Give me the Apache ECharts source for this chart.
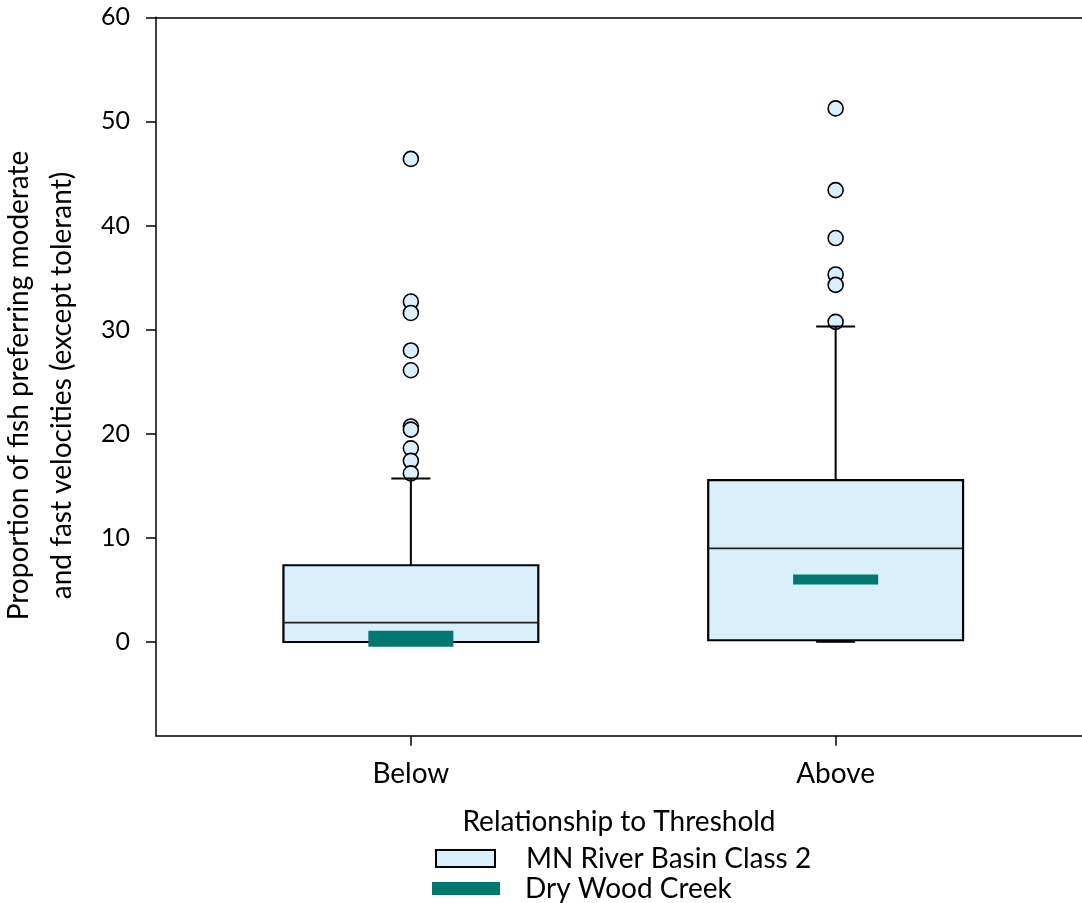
<!DOCTYPE html>
<html>
<head>
<meta charset="utf-8">
<script src="https://cdn.jsdelivr.net/npm/echarts@6/dist/echarts.min.js"></script>
<style>
html,body{margin:0;padding:0;background:#fff;}
#chart{width:1082px;height:903px;}
</style>
</head>
<body>
<div id="chart"></div>
<script>
// ---- data ----
const categories = ['Below', 'Above'];
const categoryPositions = [1, 2];
const whiskerLow = [0, 0.05];
const quartile1 = [0, 0.17];
const medians = [1.87, 9.0];
const quartile3 = [7.37, 15.55];
const whiskerHigh = [15.7, 30.3];
const outliersBelow = [46.4, 32.7, 31.6, 28.0, 26.1, 20.7, 20.4, 18.6, 17.4, 16.2];
const outliersAbove = [51.25, 43.4, 38.8, 35.3, 34.3, 30.75];
const creekValues = [0.3, 6.0];
const yTickValues = [0, 10, 20, 30, 40, 50, 60];
const seriesNames = ['MN River Basin Class 2', 'Dry Wood Creek'];

// ---- build ----
const FONT = 'Lato';
const boxFill = '#d9f0fc';
const teal = '#00786f';

const boxData = categoryPositions.map((x, i) => [x, whiskerLow[i], quartile1[i], medians[i], quartile3[i], whiskerHigh[i]]);
const outlierData = [];
outliersBelow.forEach(v => outlierData.push([categoryPositions[0], v]));
outliersAbove.forEach(v => outlierData.push([categoryPositions[1], v]));
const creekData = categoryPositions.map((x, i) => [x, creekValues[i]]);

const chart = echarts.init(document.getElementById('chart'), null, {renderer: 'canvas'});

const option = {
  animation: false,
  backgroundColor: '#fff',
  textStyle: {fontFamily: FONT},
  grid: {left: 156, right: 0, top: 17.3, bottom: 167.3, containLabel: false, outerBoundsMode: 'none'},
  xAxis: [{
    type: 'value', min: 0.4, max: 2.58, position: 'bottom',
    axisLine: {show: true, onZero: false, lineStyle: {color: '#000', width: 1.5}},
    axisTick: {show: true, length: 10, lineStyle: {color: '#000', width: 1.5}, customValues: categoryPositions},
    axisLabel: {
      show: true, color: '#000', fontSize: 28, fontFamily: FONT, margin: 24,
      customValues: categoryPositions,
      formatter: v => categories[categoryPositions.indexOf(Math.round(v))] || ''
    },
    splitLine: {show: false},
    name: 'Relationship to Threshold', nameLocation: 'middle', nameGap: 72,
    nameTextStyle: {color: '#000', fontSize: 28, fontFamily: FONT}
  }, {
    type: 'value', min: 0.4, max: 2.58, position: 'top',
    axisLine: {show: true, onZero: false, lineStyle: {color: '#000', width: 1.5}},
    axisTick: {show: false}, axisLabel: {show: false}, splitLine: {show: false}
  }],
  yAxis: {
    type: 'value', min: -9, max: 60,
    axisLine: {show: true, onZero: false, lineStyle: {color: '#000', width: 1.5}},
    axisTick: {show: true, inside: false, length: 10, lineStyle: {color: '#000', width: 1.5}, customValues: yTickValues},
    axisLabel: {show: true, color: '#000', fontSize: 25, fontFamily: FONT, margin: 26, customValues: yTickValues},
    splitLine: {show: false},
    name: 'Proportion of fish preferring moderate\nand fast velocities (except tolerant)',
    nameLocation: 'middle', nameGap: 73,
    nameTextStyle: {color: '#000', fontSize: 28, fontFamily: FONT, lineHeight: 43, align: 'center', padding: [0, 18, 0, 0]}
  },
  legend: [{
    data: [seriesNames[0]], left: 435, top: 843.5, padding: 0, orient: 'vertical',
    itemWidth: 59, itemHeight: 17, icon: 'rect',
    itemStyle: {color: boxFill, borderColor: '#000', borderWidth: 2},
    textStyle: {color: '#000', fontSize: 28, fontFamily: FONT, lineHeight: 30, padding: [0, 0, 0, 26]}
  }, {
    data: [seriesNames[1]], left: 432, top: 873.5, padding: 0, orient: 'vertical',
    itemWidth: 68, itemHeight: 13, icon: 'rect',
    itemStyle: {color: teal, borderWidth: 0},
    textStyle: {color: '#000', fontSize: 28, fontFamily: FONT, lineHeight: 30, padding: [0, 0, 0, 20]}
  }],
  series: [{
    name: seriesNames[0], type: 'custom', z: 2,
    itemStyle: {color: boxFill, borderColor: '#000', borderWidth: 2},
    encode: {x: 0, y: [1, 2, 3, 4, 5]},
    data: boxData,
    renderItem: function (params, api) {
      const x = api.value(0), lo = api.value(1), q1 = api.value(2), med = api.value(3), q3 = api.value(4), hi = api.value(5);
      const half = 0.3;
      const tl = api.coord([x - half, q3]);
      const br = api.coord([x + half, q1]);
      const pLo = api.coord([x, lo]), pQ1 = api.coord([x, q1]), pQ3 = api.coord([x, q3]), pHi = api.coord([x, hi]);
      const pMedL = api.coord([x - half, med]), pMedR = api.coord([x + half, med]);
      const capHalf = 19.5;
      const lineStyle = {stroke: '#000', lineWidth: 2};
      return {
        type: 'group',
        children: [
          {type: 'line', shape: {x1: pQ3[0], y1: pQ3[1], x2: pHi[0], y2: pHi[1]}, style: lineStyle},
          {type: 'line', shape: {x1: pQ1[0], y1: pQ1[1], x2: pLo[0], y2: pLo[1]}, style: lineStyle},
          {type: 'rect', shape: {x: tl[0], y: tl[1], width: br[0] - tl[0], height: br[1] - tl[1]},
           style: {fill: boxFill, stroke: '#000', lineWidth: 2.2}},
          {type: 'line', shape: {x1: pMedL[0], y1: pMedL[1], x2: pMedR[0], y2: pMedR[1]}, style: {stroke: '#222', lineWidth: 1.8}},
          {type: 'line', shape: {x1: pHi[0] - capHalf, y1: pHi[1], x2: pHi[0] + capHalf, y2: pHi[1]}, style: lineStyle},
          {type: 'line', shape: {x1: pLo[0] - capHalf, y1: pLo[1], x2: pLo[0] + capHalf, y2: pLo[1]}, style: {stroke: '#000', lineWidth: 2.5}}
        ]
      };
    }
  }, {
    name: 'outliers', type: 'scatter', z: 1,
    symbol: 'circle', symbolSize: 15,
    itemStyle: {color: boxFill, borderColor: '#000', borderWidth: 1.6, opacity: 1},
    data: outlierData
  }, {
    name: seriesNames[1], type: 'scatter', z: 3,
    symbol: 'rect',
    symbolSize: function (val, params) { return params.dataIndex === 0 ? [85, 16] : [85, 10]; },
    itemStyle: {color: teal, opacity: 1},
    data: creekData
  }]
};
chart.setOption(option);
</script>
</body>
</html>
